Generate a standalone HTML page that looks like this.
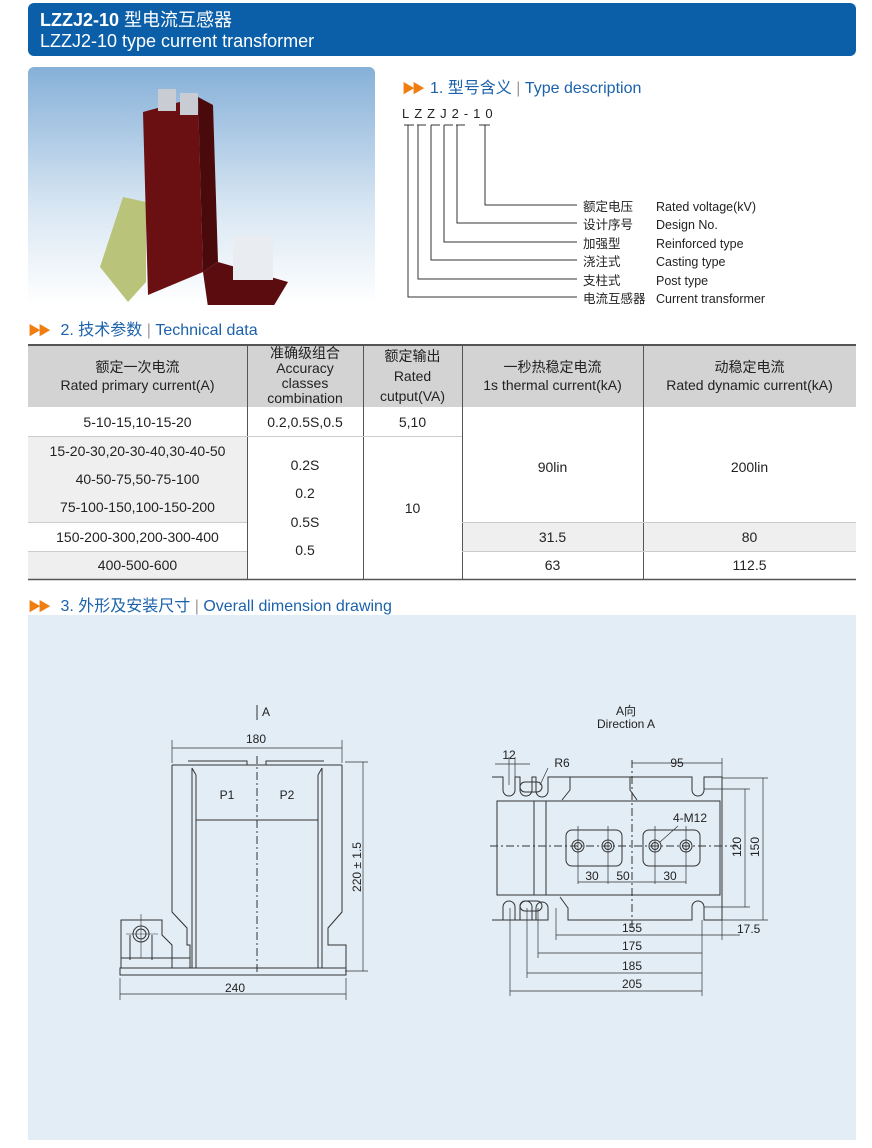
<!DOCTYPE html>
<html><head><meta charset="utf-8"><style>
*{margin:0;padding:0;box-sizing:border-box}
body{width:872px;height:1148px;background:#fff;position:relative;font-family:"Liberation Sans","Noto Sans CJK SC",sans-serif;overflow:hidden}
.a{position:absolute;white-space:nowrap}
.hdr{left:28px;top:3px;width:828px;height:53px;background:#0b5fa9;border-radius:6px}
.sec{font-size:16px;color:#1b62ab}
.sec b{color:#f07d10;font-size:13px;letter-spacing:-3px;margin-right:8px}
.c{position:absolute;text-align:center;font-size:14px;color:#222;display:flex;align-items:center;justify-content:center;flex-direction:column;line-height:18px}
.lbl{font-size:12.5px;color:#222}
</style></head><body>
<div class="a hdr"></div>
<div class="a" style="left:40px;top:6px;color:#fff;font-size:18px;font-weight:bold">LZZJ2-10 <span style="font-weight:normal">型电流互感器</span></div>
<div class="a" style="left:40px;top:31px;color:#fff;font-size:18px">LZZJ2-10 type current transformer</div>

<div class="a" style="left:28px;top:67px;width:347px;height:238px;border-radius:6px;background:linear-gradient(#86b0d8,#d9e7f3 60%,#fff)"></div>
<svg class="a" style="left:28px;top:67px" width="347" height="238">
<polygon points="72,200 95,130 118,135 118,215 100,235" fill="#b9c47a"/>
<polygon points="115,45 170,30 175,205 120,228" fill="#6a0f12"/>
<polygon points="170,30 185,38 190,195 175,205" fill="#4a090b"/>
<polygon points="175,205 190,195 260,215 245,240 180,240" fill="#5a0c0e"/>
<rect x="130" y="22" width="18" height="22" fill="#c9ccd2"/><rect x="152" y="26" width="18" height="22" fill="#c9ccd2"/>
<rect x="205" y="168" width="40" height="45" fill="#e9edf2"/>
</svg>

<div class="a sec" style="left:402px;top:74px"><b>▶▶</b>1. 型号含义<span style="color:#999"> | </span>Type description</div>
<div class="a" style="left:402px;top:106px;font-size:13px;letter-spacing:5px;color:#222">LZZJ2-1<span style="letter-spacing:0">0</span></div>
<svg class="a" style="left:0;top:0" width="872" height="340">
<g stroke="#333" stroke-width="1" fill="none">
<path d="M404 125h10M417 125h9M431 125h9M444 125h9M456 125h9M479 125h11"/>
<path d="M408 125V297H577M418 125V279H577M431 125V260H577M444 125V242H577M457 125V223H577M485 125V205H577"/>
</g></svg>
<div class="a lbl" style="left:583px;top:198px;line-height:18.4px">额定电压<br>设计序号<br>加强型<br>浇注式<br>支柱式<br>电流互感器</div>
<div class="a lbl" style="left:656px;top:198px;line-height:18.4px">Rated voltage(kV)<br>Design No.<br>Reinforced type<br>Casting type<br>Post type<br>Current transformer</div>

<div class="a sec" style="left:28px;top:316px"><b>▶▶</b>&nbsp;2. 技术参数<span style="color:#999"> | </span>Technical data</div>

<div class="a" style="left:28px;top:344px;width:828px;height:63px;background:#d3d3d3;border-top:2px solid #555"></div>
<div class="a" style="left:28px;top:436px;width:219px;height:86px;background:#efefef"></div>
<div class="a" style="left:28px;top:551px;width:219px;height:28px;background:#efefef"></div>
<div class="a" style="left:462px;top:522px;width:394px;height:29px;background:#efefef"></div>
<svg class="a" style="left:0;top:0" width="872" height="600">
<g stroke="#555" stroke-width="1"><path d="M247.5 344V579M363.5 344V579M462.5 344V579M643.5 344V579"/><path d="M28 579.5H856" stroke-width="1.5"/></g>
<g stroke="#ccc"><path d="M28 436.5H462M28 522.5H247M28 551.5H247M462 522.5H856M462 551.5H856"/></g>
</svg>
<div class="c" style="left:28px;top:344px;width:219px;height:63px">额定一次电流<br>Rated primary current(A)</div>
<div class="c" style="left:247px;top:344px;width:116px;height:63px;line-height:15px">准确级组合<br>Accuracy<br>classes<br>combination</div>
<div class="c" style="left:363px;top:344px;width:99px;height:63px;line-height:20px">额定输出<br>Rated<br>cutput(VA)</div>
<div class="c" style="left:462px;top:344px;width:181px;height:63px">一秒热稳定电流<br>1s thermal current(kA)</div>
<div class="c" style="left:643px;top:344px;width:213px;height:63px">动稳定电流<br>Rated dynamic current(kA)</div>
<div class="c" style="left:28px;top:407px;width:219px;height:29px">5-10-15,10-15-20</div>
<div class="c" style="left:247px;top:407px;width:116px;height:29px">0.2,0.5S,0.5</div>
<div class="c" style="left:363px;top:407px;width:99px;height:29px">5,10</div>
<div class="c" style="left:28px;top:436px;width:219px;height:86px;line-height:28px">15-20-30,20-30-40,30-40-50<br>40-50-75,50-75-100<br>75-100-150,100-150-200</div>
<div class="c" style="left:28px;top:522px;width:219px;height:29px">150-200-300,200-300-400</div>
<div class="c" style="left:28px;top:551px;width:219px;height:28px">400-500-600</div>
<div class="c" style="left:247px;top:450px;width:116px;height:115px;line-height:28.5px">0.2S<br>0.2<br>0.5S<br>0.5</div>
<div class="c" style="left:363px;top:436px;width:99px;height:143px">10</div>
<div class="c" style="left:462px;top:452px;width:181px;height:29px">90lin</div>
<div class="c" style="left:643px;top:452px;width:213px;height:29px">200lin</div>
<div class="c" style="left:462px;top:522px;width:181px;height:29px">31.5</div>
<div class="c" style="left:643px;top:522px;width:213px;height:29px">80</div>
<div class="c" style="left:462px;top:551px;width:181px;height:28px">63</div>
<div class="c" style="left:643px;top:551px;width:213px;height:28px">112.5</div>

<div class="a sec" style="left:28px;top:592px"><b>▶▶</b>&nbsp;3. 外形及安装尺寸<span style="color:#999"> | </span>Overall dimension drawing</div>
<div class="a" style="left:28px;top:615px;width:828px;height:525px;background:#e3edf6"></div>

<svg class="a" style="left:0;top:0" width="872" height="1148" font-family="Liberation Sans,sans-serif" font-size="12" fill="#222">
<g stroke="#333" stroke-width="1" fill="none">
<path d="M172 765V912L187 928V945H190V968M342 765V912L328 928V945H346V968"/>
<path d="M120 968H346V975H120Z"/>
<path d="M172 765H342M192 768V968M196 775V968M318 775V968M322 768V968M192 768L196 775M322 768L318 775"/>
<path d="M188 761H247V765M266 765V761H324"/>
<path d="M196 820H318"/>
<path d="M121 968V920H162V935L172 945V968M130 935V960M152 935V960M121 958H190V968"/>
<circle cx="141" cy="934" r="8"/><circle cx="141" cy="934" r="5"/>
<path d="M257 756V975" stroke-dasharray="8 3 2 3"/>
<path d="M141 914V958M126 934H158" stroke-width="0.6"/>
<path d="M257 705V720" />
<path d="M172 740V763M342 740V763M172 748H342M120 978V1000M346 978V1000M120 994H346M345 762H368M345 971H368M363 762V971" stroke-width="0.7"/>
<path d="M492 777H503V790A6 6 0 0 0 515 790V777H520V790A6 6 0 0 0 532 790V777H536V791A6 6 0 0 0 548 791V777H570V790L562 800M560 777H630V790L637 800M630 777H692V790A6 6 0 0 0 704 790V777H722V920H704V907A6 6 0 0 0 692 907V920H568V908L560 897M548 920V908A6 6 0 0 0 536 908V920H532V907A6 6 0 0 0 520 907V920H515V907A6 6 0 0 0 503 907V920H492Z"/>
<rect x="497" y="801" width="223" height="94"/>
<path d="M534 801V895M546 801V895"/>
<rect x="520" y="782" width="22" height="10" rx="5"/><rect x="520" y="901" width="22" height="10" rx="5"/>
<rect x="566" y="830" width="56" height="36" rx="6"/><rect x="643" y="830" width="57" height="36" rx="6"/>
<circle cx="578" cy="846" r="6"/><circle cx="608" cy="846" r="6"/><circle cx="655" cy="846" r="6"/><circle cx="686" cy="846" r="6"/>
<circle cx="578" cy="846" r="3.5"/><circle cx="608" cy="846" r="3.5"/><circle cx="655" cy="846" r="3.5"/><circle cx="686" cy="846" r="3.5"/>
<path d="M490 846H740M632 760V928" stroke-dasharray="8 3 2 3"/>
<g stroke-width="0.7">
<path d="M578 826V884M608 826V884M655 826V884M686 826V884M578 882H686"/>
<path d="M509 757V785M515 757V785M495 764H530M632 763H722M722 758V790"/>
<path d="M704 789H750M704 907H750M745 789V907M722 778H768M722 920H768M763 778V920"/>
<path d="M556 908V940M538 908V958M527 908V978M510 908V996M702 920V996M722 920V940"/>
<path d="M556 935H740M538 953H702M527 973H702M510 991H702"/>
<path d="M548 768L540 785M678 826L660 842"/>
</g>
</g>
<text x="262" y="716">A</text>
<text x="256" y="743" text-anchor="middle">180</text>
<text x="227" y="799" text-anchor="middle">P1</text>
<text x="287" y="799" text-anchor="middle">P2</text>
<text x="235" y="992" text-anchor="middle">240</text>
<text transform="translate(361,867) rotate(-90)" text-anchor="middle">220 ± 1.5</text>
<text x="626" y="715" text-anchor="middle">A向</text>
<text x="626" y="728" text-anchor="middle">Direction A</text>
<text x="509" y="759" text-anchor="middle">12</text>
<text x="562" y="767" text-anchor="middle">R6</text>
<text x="677" y="767" text-anchor="middle">95</text>
<text x="690" y="822" text-anchor="middle">4-M12</text>
<text x="592" y="880" text-anchor="middle">30</text>
<text x="623" y="880" text-anchor="middle">50</text>
<text x="670" y="880" text-anchor="middle">30</text>
<text x="632" y="932" text-anchor="middle">155</text>
<text x="737" y="933">17.5</text>
<text x="632" y="950" text-anchor="middle">175</text>
<text x="632" y="970" text-anchor="middle">185</text>
<text x="632" y="988" text-anchor="middle">205</text>
<text transform="translate(741,847) rotate(-90)" text-anchor="middle">120</text>
<text transform="translate(759,847) rotate(-90)" text-anchor="middle">150</text>
</svg>
</body></html>
